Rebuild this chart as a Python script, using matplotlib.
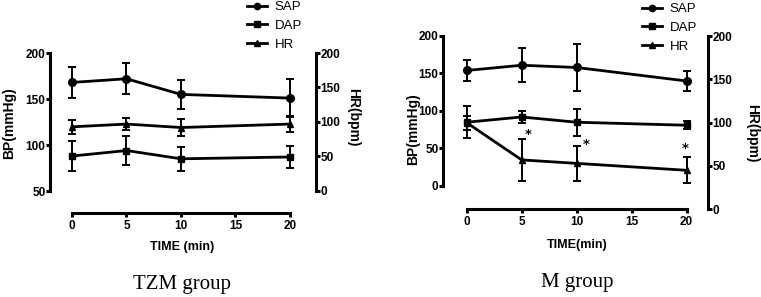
import numpy as np
import matplotlib.pyplot as plt
from matplotlib.lines import Line2D

time = [0, 5, 10, 20]

# TZM group
tzm_sap = [168, 172, 155, 151]
tzm_sap_err = [17, 17, 16, 21]
tzm_dap = [88, 94, 85, 87]
tzm_dap_err = [16, 16, 13, 12]
tzm_hr = [93, 97, 92, 97]
tzm_hr_err = [10, 9, 13, 11]

# M group
m_sap = [154, 161, 158, 140]
m_sap_err = [14, 23, 31, 13]
m_dap = [85, 92, 85, 81]
m_dap_err = [21, 8, 18, 5]
m_hr = [100, 57, 53, 45]
m_hr_err = [8, 24, 20, 15]

# significance marks (time, HR value) in M group
sig_x = [5.6, 10.9, 19.85]
sig_y = [86, 75, 70]

W, H = 761, 297
LW = 2.2
bold = dict(family=['Liberation Sans', 'DejaVu Sans'], weight='bold')


def px_axes(x0, y0, x1, y1):
    # pixel box (from top-left) -> figure axes
    return fig.add_axes([x0 / W, 1 - y1 / H, (x1 - x0) / W, (y1 - y0) / H])


def draw_panel(box, xlim, bp_lim, bp_bounds, bp_ticks, hr_lim, sap, sap_e, dap, dap_e, hr, hr_e):
    ax = px_axes(*box)
    ax.set_xlim(*xlim)
    ax.set_ylim(*bp_lim)
    ax.patch.set_visible(False)
    ekw = dict(color='black', lw=2.0, elinewidth=1.4, capsize=2.6, capthick=1.4)
    ax.errorbar(time, sap, yerr=sap_e, marker='o', ms=5.5, **ekw)
    ax.errorbar(time, dap, yerr=dap_e, marker='s', ms=5, **ekw)
    ax.set_xticks([0, 5, 10, 15, 20])
    ax.set_yticks(bp_ticks)
    ax.spines['left'].set_bounds(*bp_bounds)
    ax.spines['bottom'].set_bounds(0, 20)

    tw = ax.twinx()
    tw.set_ylim(*hr_lim)
    tw.errorbar(time, hr, yerr=hr_e, marker='^', ms=4.5, **ekw)
    tw.set_yticks([0, 50, 100, 150, 200])
    tw.spines['right'].set_bounds(0, 200)

    for s in ['top', 'right']:
        ax.spines[s].set_visible(False)
    for s in ['top', 'left', 'bottom']:
        tw.spines[s].set_visible(False)
    for a in [ax, tw]:
        for s in a.spines.values():
            s.set_linewidth(LW)
            s.set_capstyle('projecting')
        a.tick_params(axis='both', width=LW, length=3, pad=0.3, labelsize=8.5)
        for lab in a.get_xticklabels() + a.get_yticklabels():
            lab.set_family(bold['family'])
            lab.set_fontweight('bold')
    ax.tick_params(axis='x', pad=2)
    return ax, tw


def add_legend(ax, x, y):
    handles = [Line2D([], [], color='black', lw=2.0, marker='o', ms=4.5),
               Line2D([], [], color='black', lw=2.0, marker='s', ms=4),
               Line2D([], [], color='black', lw=2.0, marker='^', ms=4)]
    ax.legend(handles, ['SAP', 'DAP', 'HR'], loc='upper left',
              bbox_to_anchor=(x / W, 1 - y / H), bbox_transform=fig.transFigure,
              frameon=False, borderpad=0, borderaxespad=0, handlelength=1.5,
              handletextpad=0.6, labelspacing=0.5,
              prop=dict(family=['Liberation Sans', 'DejaVu Sans'], size=9.5))


fig = plt.figure(figsize=(W / 100, H / 100), dpi=100)

# left panel: BP 50-200 over y 53..191, HR 0-200 over same span, x axis at y=213
ax1, tw1 = draw_panel((50, 53, 316, 213), (-2.02, 22.39), (26.1, 200), (50, 200),
                      [50, 100, 150, 200], (-31.9, 200),
                      tzm_sap, tzm_sap_err, tzm_dap, tzm_dap_err, tzm_hr, tzm_hr_err)
add_legend(tw1, 247, 1)

# right panel
ax2, tw2 = draw_panel((443, 36, 708, 209.3), (-2.15, 21.94), (-31.1, 200), (0, 200),
                      [0, 50, 100, 150, 200], (0, 200),
                      m_sap, m_sap_err, m_dap, m_dap_err, m_hr, m_hr_err)
add_legend(tw2, 642, 3)
for sx, sy in zip(sig_x, sig_y):
    tw2.text(sx, sy, '*', ha='center', va='center', fontsize=9.5, fontweight='bold')

# axis labels
fig.text(9 / W, 1 - 123 / H, 'BP(mmHg)', rotation=90, ha='center', va='center', fontsize=10, **bold)
fig.text(353 / W, 1 - 117 / H, 'HR(bpm)', rotation=270, ha='center', va='center', fontsize=10, **bold)
fig.text(413 / W, 1 - 129 / H, 'BP(mmHg)', rotation=90, ha='center', va='center', fontsize=10, **bold)
fig.text(752 / W, 1 - 133 / H, 'HR(bpm)', rotation=270, ha='center', va='center', fontsize=10, **bold)
fig.text(182 / W, 1 - 247 / H, 'TIME (min)', ha='center', va='center', fontsize=9, **bold)
fig.text(577 / W, 1 - 245 / H, 'TIME(min)', ha='center', va='center', fontsize=9, **bold)

serif = ['Liberation Serif', 'DejaVu Serif']
fig.text(182 / W, 1 - 285 / H, 'TZM group', ha='center', va='center', fontsize=15, family=serif)
fig.text(577 / W, 1 - 283 / H, 'M group', ha='center', va='center', fontsize=15, family=serif)

fig.savefig('out.png', dpi=100)
